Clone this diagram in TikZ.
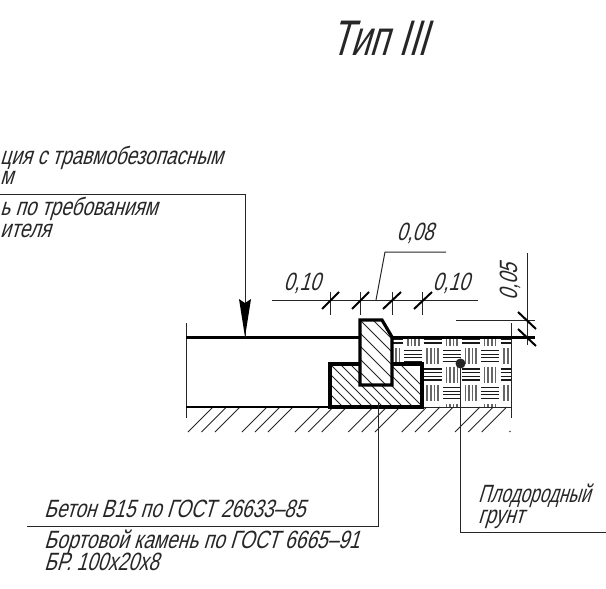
\documentclass[tikz,border=0pt]{standalone}
\usepackage{fontspec}
\setmainfont[FakeStretch=0.76,FakeSlant=0.3]{Liberation Sans}
\usetikzlibrary{arrows.meta}
\tikzset{
  x=1pt,y=-1pt,
  thin line/.style={line width=1pt,black!85},
  thick line/.style={line width=3.2pt,black,line join=miter},
  tick line/.style={line width=2pt,black},
  hatch line/.style={line width=0.9pt,black!85},
  lbl/.style={inner sep=0,anchor=base west,font=\fontsize{25}{25}\selectfont,text=black!85},
  lblc/.style={inner sep=0,anchor=center,font=\fontsize{25}{25}\selectfont,text=black!85},
  vw/.style={line width=1.6pt,black!60},
  hw/.style={line width=1.3pt,black!90}
}
\newcommand{\cellV}[2]{\foreach \d in {-5.4,-1.8,1.8,5.4}{\draw[vw] (#1+\d,#2-8)--(#1+\d,#2+8);}}
\newcommand{\cellH}[2]{\foreach \d in {-5.4,-1.8,1.8,5.4}{\draw[hw] (#1-9,#2+\d)--(#1+9,#2+\d);}}
\begin{document}
\begin{tikzpicture}
\useasboundingbox (0,0) rectangle (606,589);
% soil
\begin{scope}
\clip (392,338) -- (511,338) -- (511,407) -- (422,407) -- (422,364) -- (392,364) -- cycle;
\foreach \x in {413.3,451.7,490}{\cellV{\x}{337.5}\cellV{\x}{411.5}}
\foreach \x in {394,432.6,470.7,509.5}{\cellV{\x}{356}\cellV{\x}{393}}
\foreach \x in {452,490}{\cellV{\x}{374.5}}
\foreach \x in {394,432.6,470.7,509.5}{\cellH{\x}{337.5}}
\foreach \x in {413.3,451.7,490}{\cellH{\x}{356}\cellH{\x}{393}}
\foreach \x in {432.6,470.7,509.5}{\cellH{\x}{374.5}}
\end{scope}
% base hatch
\begin{scope}
\clip (330,364) rectangle (422,407);
\foreach \k in {-80,-70,...,70}{\draw[hatch line] (330+\k,364)--(330+\k+43,407);}
\end{scope}
% white behind the curb, then its hatch
\fill[white] (360,320)--(382,320)--(392,337)--(392,385)--(360,385)--cycle;
\begin{scope}
\clip (360,320)--(382,320)--(392,337)--(392,385)--(360,385)--cycle;
\foreach \k in {-65,-52,...,30}{\draw[hatch line] (360+\k,320)--(360+\k+65,385);}
\end{scope}
% ground hatch
\foreach \b in {188,201.5,215,242,255,268,295,308.3,321.7,348.3,361.7,375,401.7,415,428.3,455,468.3,481.7}{\draw[hatch line] (\b,432)--(\b+25,407);}
\fill[black!70] (510,431.5) circle[radius=0.8pt];
% outlines
\draw[thin line] (186,323)--(186,418);
\draw[thin line] (511,323)--(511,418);
\draw[line width=1.2pt,black] (186,407)--(330,407);
\draw[thin line] (422,407)--(511,407);
\coordinate (roadL) at (186,337);
\coordinate (roadC) at (360,337);
\coordinate (roadD) at (392,337);
\coordinate (roadE) at (535,337);
\draw[thick line,line width=3pt] (roadL)--(roadC);
\draw[thick line,line width=3pt] (roadD)--(roadE);
\draw[thick line] (360,364) -- (330,364) -- (330,407) -- (422,407) -- (422,364) -- (392,364);
\draw[thick line] (360,320)--(382,320)--(392,337)--(392,385)--(360,385)--cycle;
% dimensions
\draw[thin line] (272,300)--(478,300);
\foreach \x in {330.5,360,392,422}{\draw[thin line] (\x,292)--(\x,315);}
\draw[tick line] (322,309)--(339,292);
\draw[tick line] (352,309)--(369,292);
\draw[tick line] (383,309)--(401,292);
\draw[tick line] (414,309)--(432,292);
\coordinate (lead8a) at (376,300);
\coordinate (lead8b) at (385,252);
\coordinate (lead8c) at (446,252);
\draw[thin line] (lead8a)--(lead8b)--(lead8c);
\node[lblc] (t08) at (415,233) {0,08};
\node[lblc] (t10a) at (302,283) {0,10};
\node[lblc] (t10b) at (451,283) {0,10};
\draw[thin line] (527,253)--(527,345);
\draw[thin line] (456,320)--(535,320);
\draw[tick line] (518,312)--(536,329);
\draw[tick line] (518,329)--(536,346);
\node[lblc,rotate=90] (t05) at (510,282) {0,05};
% left leader with arrow
\coordinate (a0) at (0,194);
\coordinate (a1) at (245,194);
\coordinate (a2) at (245,337);
\draw[thin line] (a0)--(a1)--(a2);
\fill[black] (245,337)--(239,299)--(245,303)--(251,299)--cycle;
\node[lbl] (l1) at (0,164) {ция с травмобезопасным};
\node[lbl] (l2) at (0,184) {м};
\node[lbl] (l3) at (0,215) {ь по требованиям};
\node[lbl] (l4) at (0,237) {ителя};
% bottom leader
\coordinate (b0) at (27,526);
\coordinate (b1) at (378,526);
\coordinate (b2) at (378,402);
\draw[thin line] (b0)--(b1)--(b2);
\node[lbl] (b3) at (44,517) {Бетон В15 по ГОСТ 26633–85};
\node[lbl] (b4) at (44,548) {\addfontfeature{FakeStretch=0.77}Бортовой камень по ГОСТ 6665–91};
\node[lbl] (b5) at (44,570) {БР. 100х20х8};
% soil leader
\coordinate (s0) at (460.5,363.5);
\coordinate (s1) at (460.5,532);
\coordinate (s2) at (606,532);
\draw[thin line] (s0)--(s1)--(s2);
\fill[black!85] (s0) circle[radius=5pt];
\node[lbl] (s3) at (478,502) {\addfontfeature{FakeStretch=0.69}Плодородный};
\node[lbl] (s4) at (478,523) {грунт};
\node[lbl,font=\fontsize{50}{50}\selectfont] (title) at (330,56) {\addfontfeature{FakeStretch=0.7}Тип III};
\end{tikzpicture}
\end{document}
